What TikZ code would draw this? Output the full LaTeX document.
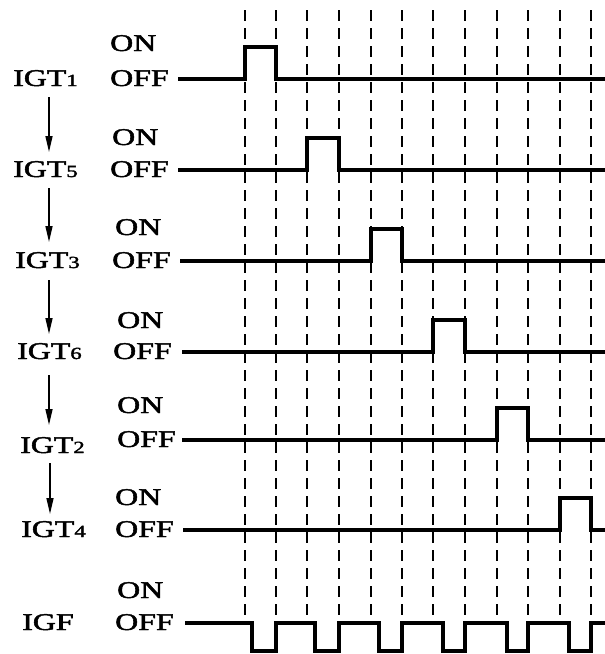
\documentclass[tikz,border=0pt]{standalone}
\usepackage{fontspec}
\setmainfont{Liberation Serif}[BoldFont=Liberation Serif, BoldFeatures={FakeBold=1.8}]
\usepackage{graphicx}
\usetikzlibrary{arrows.meta}
\newcommand{\wtxt}[1]{\scalebox{1.33}[1]{#1}}
\newcommand{\dg}[1]{{\fontsize{17}{17}\selectfont #1}}
\tikzset{
  lbl/.style={anchor=base west, inner sep=0pt, font=\fontsize{24}{24}\selectfont\bfseries},
  sig/.style={line width=3.4pt, line join=miter},
  grid/.style={line width=1.6pt, dash pattern=on 11pt off 7pt},
  flow/.style={line width=1.5pt, -{Triangle[length=16pt,width=7pt]}}
}
\begin{document}
\begin{tikzpicture}[x=1pt,y=-1pt]
\useasboundingbox (0,0) rectangle (605,654);
% dashed timing lines
\foreach \xx in {245,276,307,339,371,402,433,465,497,528,560,591}
  \draw[grid] (\xx,10) -- (\xx,620);
% labels
\node[lbl] (igt1) at (13,86) {\wtxt{IGT\dg{1}}};
\node[lbl] (igt5) at (13,177) {\wtxt{IGT\dg{5}}};
\node[lbl] (igt3) at (15,268) {\wtxt{IGT\dg{3}}};
\node[lbl] (igt6) at (17,359) {\wtxt{IGT\dg{6}}};
\node[lbl] (igt2) at (20,453) {\wtxt{IGT\dg{2}}};
\node[lbl] (igt4) at (21,537) {\wtxt{IGT\dg{4}}};
\node[lbl] (igf) at (22,630) {\wtxt{IGF}};
% ON / OFF
\node[lbl] (on1) at (110,51) {\wtxt{ON}};
\node[lbl] (off1) at (110,86) {\wtxt{OFF}};
\node[lbl] (on5) at (112,145) {\wtxt{ON}};
\node[lbl] (off5) at (110,177) {\wtxt{OFF}};
\node[lbl] (on3) at (115,235) {\wtxt{ON}};
\node[lbl] (off3) at (112,268) {\wtxt{OFF}};
\node[lbl] (on6) at (117,328) {\wtxt{ON}};
\node[lbl] (off6) at (113,359) {\wtxt{OFF}};
\node[lbl] (on2) at (117,413) {\wtxt{ON}};
\node[lbl] (off2) at (117,447) {\wtxt{OFF}};
\node[lbl] (on4) at (115,505) {\wtxt{ON}};
\node[lbl] (off4) at (115,537) {\wtxt{OFF}};
\node[lbl] (ong) at (117,598) {\wtxt{ON}};
\node[lbl] (offg) at (115,630) {\wtxt{OFF}};
% sequence arrows
\coordinate (a1s) at (49,97);  \coordinate (a1e) at (49,152);
\coordinate (a2s) at (49,188); \coordinate (a2e) at (49,242);
\coordinate (a3s) at (49,280); \coordinate (a3e) at (49,334);
\coordinate (a4s) at (49,375); \coordinate (a4e) at (49,425);
\coordinate (a5s) at (50,463); \coordinate (a5e) at (50,514);
\draw[flow] (a1s) -- (a1e);
\draw[flow] (a2s) -- (a2e);
\draw[flow] (a3s) -- (a3e);
\draw[flow] (a4s) -- (a4e);
\draw[flow] (a5s) -- (a5e);
% signals
\draw[sig] (178,79) -- (245,79) -- (245,47) -- (276,47) -- (276,79) -- (605,79);
\draw[sig] (178,170) -- (307,170) -- (307,138) -- (339,138) -- (339,170) -- (605,170);
\draw[sig] (180,261) -- (371,261) -- (371,229) -- (402,229) -- (402,261) -- (605,261);
\draw[sig] (182,352) -- (433,352) -- (433,320) -- (465,320) -- (465,352) -- (605,352);
\draw[sig] (182,440) -- (497,440) -- (497,408) -- (528,408) -- (528,440) -- (605,440);
\draw[sig] (183,530) -- (560,530) -- (560,498) -- (591,498) -- (591,530) -- (605,530);
\draw[sig] (185,623) -- (252,623) -- (252,651) -- (276,651) -- (276,623)
  -- (315,623) -- (315,651) -- (339,651) -- (339,623)
  -- (379,623) -- (379,651) -- (402,651) -- (402,623)
  -- (443,623) -- (443,651) -- (465,651) -- (465,623)
  -- (507,623) -- (507,651) -- (528,651) -- (528,623)
  -- (569,623) -- (569,651) -- (591,651) -- (591,623) -- (605,623);
\end{tikzpicture}
\end{document}
